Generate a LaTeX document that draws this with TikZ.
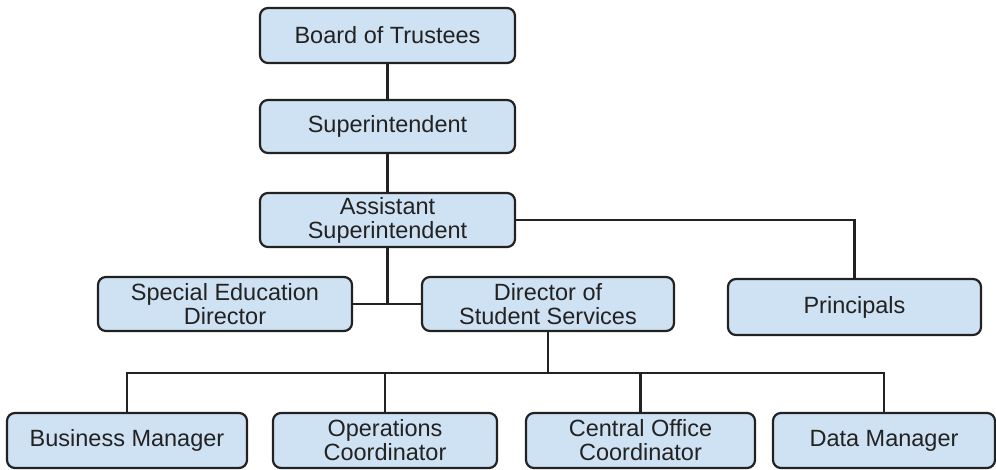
\documentclass[tikz,border=0pt]{standalone}
\usepackage{fontspec}
\setmainfont{Liberation Sans}
\definecolor{boxblue}{HTML}{CFE2F3}
\definecolor{inkgray}{HTML}{222222}
\tikzset{
    orgbox/.style={draw=inkgray, fill=boxblue, line width=2.2pt, rounded corners=8pt,
        minimum height=54pt, inner sep=0pt, align=center, text=inkgray,
        font=\fontsize{23.5}{24}\selectfont},
    link/.style={draw=inkgray, line width=2.2pt}
}
\begin{document}
\begin{tikzpicture}[x=1pt,y=-1pt]
    \useasboundingbox (0,0) rectangle (996,470);
    %Boxes%
    \node[orgbox, minimum width=255pt, minimum height=55pt] (board) at (387.5,35.5) {Board of Trustees};
    \node[orgbox, minimum width=255pt, minimum height=53pt] (super) at (387.5,126.5) {Superintendent};
    \node[orgbox, minimum width=255pt] (assist) at (387.5,220) {Assistant\\Superintendent};
    \node[orgbox, minimum width=254pt] (sped) at (225,304) {Special Education\\Director};
    \node[orgbox, minimum width=252pt] (dss) at (548,304) {Director of\\Student Services};
    \node[orgbox, minimum width=253pt, minimum height=56pt] (princ) at (854.5,307) {Principals};
    \node[orgbox, minimum width=240pt, minimum height=55pt] (busman) at (127,440.5) {Business Manager};
    \node[orgbox, minimum width=224pt, minimum height=55pt] (opscoord) at (385,440.5) {Operations\\Coordinator};
    \node[orgbox, minimum width=229pt, minimum height=55pt] (cocoord) at (640.5,440.5) {Central Office\\Coordinator};
    \node[orgbox, minimum width=222pt, minimum height=55pt] (dataman) at (884,440.5) {Data Manager};

    % Connectors %
    \coordinate (split) at (387.5,304);
    \coordinate (bar) at (548,373);
    \draw[link] (board) -- (super);
    \draw[link] (super) -- (assist);
    \draw[link] (assist) -- (split);
    \draw[link] (sped) -- (dss);
    \draw[link] (assist.east) -| (princ.north);
    \draw[link] (dss) -- (bar);
    \draw[link] (busman.north) |- (bar) -| (dataman.north);
    \draw[link] (opscoord.north) -- (opscoord.north |- bar);
    \draw[link] (cocoord.north) -- (cocoord.north |- bar);
\end{tikzpicture}
\end{document}
